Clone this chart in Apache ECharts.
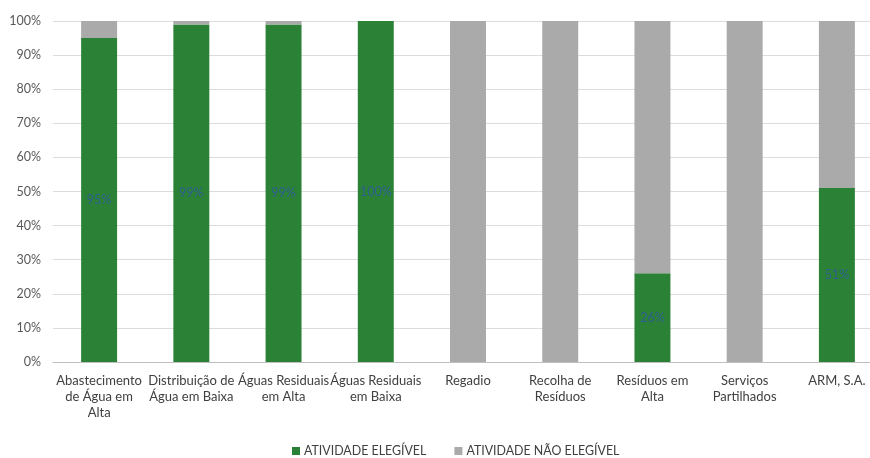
<!DOCTYPE html>
<html>
<head>
<meta charset="utf-8">
<script src="https://cdn.jsdelivr.net/npm/echarts@6/dist/echarts.min.js"></script>
<style>html,body{margin:0;padding:0;background:#fff}#c{width:870px;height:458px}</style>
</head>
<body>
<div id="c"></div>
<script>
const categories = [
  "Abastecimento\nde Água em\nAlta",
  "Distribuição de\nÁgua em Baixa",
  "Águas Residuais\nem Alta",
  "Águas Residuais\nem Baixa",
  "Regadio",
  "Recolha de\nResíduos",
  "Resíduos em\nAlta",
  "Serviços\nPartilhados",
  "ARM, S.A."
];
const elegivel = [95, 99, 99, 100, 0, 0, 26, 0, 51];
const naoElegivel = [5, 1, 1, 0, 100, 100, 74, 100, 49];
const seriesNames = ["ATIVIDADE ELEGÍVEL", "ATIVIDADE NÃO ELEGÍVEL"];

const chart = echarts.init(document.getElementById('c'));
const font = 'Lato, "Open Sans", sans-serif';
chart.setOption({
  animation: false,
  textStyle: { fontFamily: font },
  grid: { left: 53, width: 830, top: 21, bottom: 96, outerBoundsMode: 'none', containLabel: false },
  legend: {
    top: 440,
    left: 287,
    icon: 'rect',
    itemWidth: 8,
    itemHeight: 8,
    itemGap: 28,
    textStyle: { fontFamily: font, fontSize: 12.4, color: '#404040', padding: [0, 0, 0, -1] },
    data: seriesNames
  },
  xAxis: {
    type: 'category',
    data: categories,
    axisLine: { lineStyle: { color: '#bfbfbf' } },
    axisTick: { show: false },
    axisLabel: { interval: 0, color: '#404040', fontSize: 13, lineHeight: 16, margin: 11, fontFamily: font }
  },
  yAxis: {
    type: 'value',
    min: 0, max: 100, interval: 10,
    axisLabel: { formatter: '{value}%', color: '#595959', fontSize: 12.5, margin: 12, fontFamily: font },
    splitLine: { lineStyle: { color: '#dcdcdc' } },
    axisLine: { show: false },
    axisTick: { show: false }
  },
  series: [
    {
      name: seriesNames[0], type: 'bar', stack: 't', data: elegivel,
      barWidth: '39%',
      itemStyle: { color: '#2b8237' },
      label: {
        show: true, position: 'inside', fontSize: 12.5, color: '#2f5f8f', fontFamily: font,
        formatter: p => p.value > 0 ? p.value + '%' : ''
      }
    },
    {
      name: seriesNames[1], type: 'bar', stack: 't', data: naoElegivel,
      barWidth: '39%',
      itemStyle: { color: '#aaaaaa' }
    }
  ]
});
</script>
</body>
</html>
